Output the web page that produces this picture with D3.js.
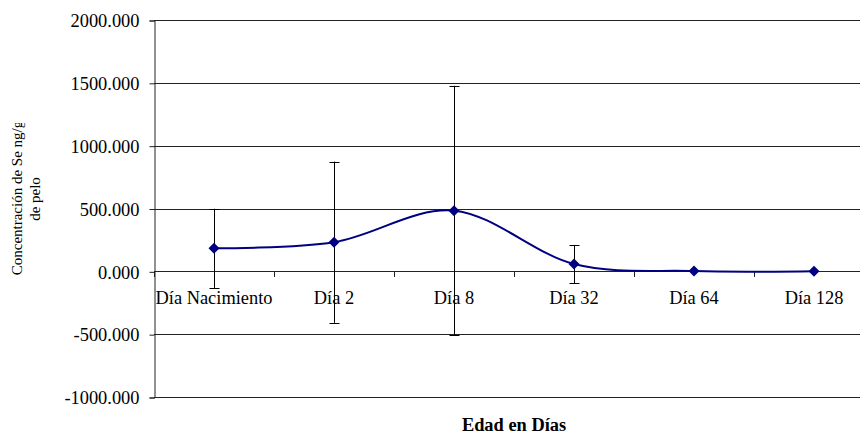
<!DOCTYPE html>
<html>
<head>
<meta charset="utf-8">
<script src="https://cdn.jsdelivr.net/npm/d3@7"></script>
</head>
<body style="margin:0;background:#fff">
<svg id="chart" width="860" height="437" style="display:block"></svg>
<script>
// Selenium concentration in hair by age (mean ± error)
const categories = ["Día Nacimiento", "Día 2", "Día 8", "Día 32", "Día 64", "Día 128"];
const means = [183, 232, 483, 58, 2, 1];
const errors = [315, 642, 993, 152, 0, 0];
const yTicks = [-1000, -500, 0, 500, 1000, 1500, 2000];

const svg = d3.select("#chart");
const plotLeft = 154, plotRight = 874, plotTop = 20, plotBottom = 397;
const fontSize = 18.4;
const serif = "Liberation Serif";

const x = d3.scaleBand().domain(categories).range([plotLeft, plotRight]);
const y = d3.scaleLinear().domain([-1000, 2000]).range([plotBottom, plotTop]);
const cx = c => x(c) + x.bandwidth() / 2;

const data = categories.map((c, i) => ({ c, v: means[i], e: errors[i] }));

// horizontal gridlines
svg.append("g").selectAll("line").data(yTicks).join("line")
  .attr("x1", plotLeft).attr("x2", plotRight)
  .attr("y1", d => Math.round(y(d)) + 0.5).attr("y2", d => Math.round(y(d)) + 0.5)
  .attr("stroke", "#222").attr("stroke-width", 1);

// y axis
const fmt = d3.format(".3f");
const yAxis = d3.axisLeft(y).tickValues(yTicks).tickSize(5).tickPadding(10)
  .tickFormat(d => d < 0 ? "-" + fmt(-d) : fmt(d));
const gy = svg.append("g").attr("transform", `translate(${plotLeft + 0.5},0.5)`).call(yAxis);
gy.select(".domain").attr("stroke", "#222");
gy.selectAll(".tick line").attr("stroke", "#222");
gy.selectAll(".tick text").attr("font-size", fontSize).attr("fill", "#000")
  .style("font-family", serif).attr("dy", "0.34em");

// x axis along the zero line, ticks between categories
const boundaries = categories.map(c => x(c)).concat([plotRight]);
svg.append("g").selectAll("line").data(boundaries).join("line")
  .attr("x1", d => Math.round(d) + 0.5).attr("x2", d => Math.round(d) + 0.5)
  .attr("y1", Math.round(y(0))).attr("y2", Math.round(y(0)) + 6)
  .attr("stroke", "#222");

svg.append("g").selectAll("text").data(categories).join("text")
  .attr("x", d => cx(d)).attr("y", y(0) + 33)
  .attr("text-anchor", "middle").attr("font-size", fontSize).attr("fill", "#000")
  .style("font-family", serif)
  .text(d => d);

// error bars
const eb = svg.append("g").selectAll("g").data(data.filter(d => d.e > 0)).join("g");
eb.append("line")
  .attr("x1", d => Math.round(cx(d.c)) + 0.5).attr("x2", d => Math.round(cx(d.c)) + 0.5)
  .attr("y1", d => y(d.v + d.e)).attr("y2", d => y(d.v - d.e))
  .attr("stroke", "#000");
[1, -1].forEach(s => {
  eb.append("line")
    .attr("x1", d => cx(d.c) - 4.5).attr("x2", d => cx(d.c) + 5.5)
    .attr("y1", d => Math.round(y(d.v + s * d.e)) + 0.5)
    .attr("y2", d => Math.round(y(d.v + s * d.e)) + 0.5)
    .attr("stroke", "#000");
});

// smoothed series line
const line = d3.line().x(d => cx(d.c)).y(d => y(d.v)).curve(d3.curveCardinal.tension(0));
svg.append("path").datum(data)
  .attr("d", line).attr("fill", "none")
  .attr("stroke", "#000080").attr("stroke-width", 2);

// diamond markers
const r = 5.5;
svg.append("g").selectAll("path").data(data).join("path")
  .attr("transform", d => `translate(${cx(d.c)},${y(d.v)})`)
  .attr("d", `M0,${-r}L${r},0L0,${r}L${-r},0Z`)
  .attr("fill", "#000080");

// axis titles
svg.append("text")
  .attr("x", (plotLeft + plotRight) / 2).attr("y", 431)
  .attr("text-anchor", "middle").attr("font-size", fontSize).attr("font-weight", "bold")
  .style("font-family", serif)
  .text("Edad en Días");

svg.append("clipPath").attr("id", "ytitle-clip")
  .append("rect").attr("x", 0).attr("y", 123).attr("width", 60).attr("height", 300);

const titleSize = 15;
const ytg = svg.append("g").attr("clip-path", "url(#ytitle-clip)");
ytg.append("text")
  .attr("transform", "translate(22,198) rotate(-90)")
  .attr("text-anchor", "middle").attr("font-size", titleSize)
  .style("font-family", serif)
  .text("Concentración de Se ng/g");
ytg.append("text")
  .attr("transform", "translate(40,199) rotate(-90)")
  .attr("text-anchor", "middle").attr("font-size", titleSize)
  .style("font-family", serif)
  .text("de pelo");
</script>
</body>
</html>
